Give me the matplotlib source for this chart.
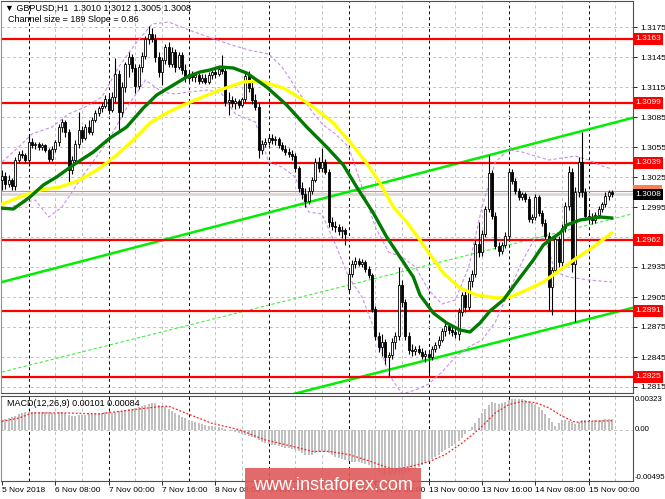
import numpy as np
import matplotlib.pyplot as plt
from matplotlib.patches import Rectangle

plt.rcParams['font.family'] = ['Liberation Sans', 'DejaVu Sans']

# GBPUSD H1 candles, 5 Nov 16:00 .. 15 Nov 07:00 (weekend skipped)
opens = [1.3022, 1.3026, 1.3018, 1.3022, 1.3016, 1.3042, 1.3048, 1.3047, 1.3042, 1.3060,
         1.3057, 1.3058, 1.3055, 1.3057, 1.3052, 1.3043, 1.3053, 1.3060, 1.3075, 1.3080,
         1.3070, 1.3032, 1.3042, 1.3058, 1.3072, 1.3064, 1.3075, 1.3070, 1.3082, 1.3089,
         1.3094, 1.3096, 1.3103, 1.3092, 1.3105, 1.3128, 1.3090, 1.3115, 1.3138, 1.3145,
         1.3134, 1.3116, 1.3135, 1.3146, 1.3163, 1.3168, 1.3163, 1.3145, 1.3130, 1.3142,
         1.3155, 1.3138, 1.3150, 1.3135, 1.3147, 1.3132, 1.3124, 1.3128, 1.3125, 1.3127,
         1.3121, 1.3124, 1.3120, 1.3127, 1.3130, 1.3128, 1.3133, 1.3131, 1.3100, 1.3102,
         1.3099, 1.3101, 1.3097, 1.3103, 1.3126, 1.3114, 1.3102, 1.3095, 1.3052, 1.3058,
         1.3060, 1.3064, 1.3062, 1.3063, 1.3057, 1.3053, 1.3050, 1.3048, 1.3046, 1.3034,
         1.3014, 1.3008, 1.3001, 1.3011, 1.3022, 1.3040, 1.3034, 1.3040, 1.3030, 1.2980,
         1.2976, 1.2975, 1.2971, 1.2972, 1.2913, 1.2928, 1.2938, 1.2941, 1.2938, 1.2940,
         1.2933, 1.2927, 1.2893, 1.2866, 1.2855, 1.2860, 1.2845, 1.2847, 1.2860, 1.2866,
         1.2917, 1.2900, 1.2866, 1.2852, 1.2851, 1.2853, 1.2850, 1.2846, 1.2848, 1.2845,
         1.2853, 1.2857, 1.2862, 1.2871, 1.2876, 1.2872, 1.2870, 1.2868, 1.2890, 1.2907,
         1.2895, 1.2921, 1.2928, 1.2958, 1.2950, 1.2968, 1.2993, 1.3029, 1.2986, 1.2956,
         1.2951, 1.2957, 1.2966, 1.3030, 1.3021, 1.3011, 1.3005, 1.3008, 1.3003, 1.2983,
         1.2985, 1.3005, 1.2989, 1.2979, 1.2966, 1.2915, 1.2932, 1.2963, 1.2940, 1.2974,
         1.2996, 1.3030, 1.2938, 1.3010, 1.3040, 1.3010, 1.2986, 1.2984, 1.2982, 1.2987,
         1.2993, 1.2998, 1.3006, 1.3010]
highs = [1.3032, 1.3030, 1.3027, 1.3024, 1.3045, 1.3051, 1.3052, 1.3049, 1.3067, 1.3064,
         1.3060, 1.3060, 1.3059, 1.3058, 1.3054, 1.3056, 1.3062, 1.3078, 1.3083, 1.3082,
         1.3073, 1.3046, 1.3062, 1.3090, 1.3076, 1.3078, 1.3082, 1.3085, 1.3092, 1.3096,
         1.3099, 1.3107, 1.3108, 1.3110, 1.3144, 1.3132, 1.3120, 1.3140, 1.3150, 1.3148,
         1.3138, 1.3138, 1.3150, 1.3166, 1.3176, 1.3174, 1.3168, 1.3150, 1.3145, 1.3158,
         1.3160, 1.3155, 1.3153, 1.3150, 1.3150, 1.3138, 1.3132, 1.3131, 1.3130, 1.3129,
         1.3128, 1.3128, 1.3130, 1.3132, 1.3134, 1.3136, 1.3147, 1.3136, 1.3110, 1.3106,
         1.3104, 1.3103, 1.3105, 1.3130, 1.3131, 1.3120, 1.3108, 1.3099, 1.3062, 1.3064,
         1.3067, 1.3068, 1.3066, 1.3065, 1.3060, 1.3057, 1.3054, 1.3052, 1.3049, 1.3036,
         1.3020, 1.3014, 1.3015, 1.3025, 1.3044, 1.3045, 1.3054, 1.3043, 1.3033, 1.2985,
         1.2981, 1.2978, 1.2976, 1.2974, 1.2932, 1.2942, 1.2945, 1.2944, 1.2943, 1.2942,
         1.2936, 1.2929, 1.2896, 1.2870, 1.2868, 1.2863, 1.2850, 1.2864, 1.2870, 1.2935,
         1.2922, 1.2903, 1.2870, 1.2858, 1.2856, 1.2857, 1.2854, 1.2852, 1.2852, 1.2856,
         1.2860, 1.2866, 1.2874, 1.2880, 1.2878, 1.2876, 1.2874, 1.2894, 1.2910, 1.2912,
         1.2925, 1.2932, 1.2962, 1.2980, 1.2972, 1.2996, 1.3047, 1.3032, 1.2990, 1.2960,
         1.2960, 1.2970, 1.3034, 1.3033, 1.3024, 1.3014, 1.3010, 1.3010, 1.3006, 1.2988,
         1.3008, 1.3007, 1.2992, 1.2983, 1.2970, 1.2935, 1.2968, 1.2966, 1.2978, 1.3000,
         1.3036, 1.3034, 1.3015, 1.3045, 1.3070, 1.3014, 1.2990, 1.2989, 1.2990, 1.2996,
         1.3000, 1.3010, 1.3012, 1.3012]
lows = [1.3012, 1.3013, 1.3015, 1.3012, 1.3012, 1.3040, 1.3044, 1.3039, 1.3036, 1.3054,
        1.3053, 1.3052, 1.3052, 1.3050, 1.3040, 1.3041, 1.3050, 1.3056, 1.3070, 1.3065,
        1.3019, 1.3028, 1.3040, 1.3054, 1.3060, 1.3062, 1.3068, 1.3067, 1.3080, 1.3086,
        1.3090, 1.3094, 1.3088, 1.3090, 1.3100, 1.3072, 1.3085, 1.3110, 1.3125, 1.3130,
        1.3109, 1.3113, 1.3130, 1.3143, 1.3158, 1.3160, 1.3140, 1.3125, 1.3117, 1.3138,
        1.3135, 1.3135, 1.3130, 1.3133, 1.3128, 1.3120, 1.3120, 1.3121, 1.3120, 1.3118,
        1.3119, 1.3118, 1.3118, 1.3123, 1.3124, 1.3126, 1.3128, 1.3096, 1.3087, 1.3095,
        1.3093, 1.3094, 1.3095, 1.3100, 1.3110, 1.3098, 1.3092, 1.3044, 1.3048, 1.3055,
        1.3057, 1.3058, 1.3057, 1.3054, 1.3051, 1.3047, 1.3045, 1.3042, 1.3030, 1.3010,
        1.3003, 1.2995, 1.2998, 1.3008, 1.3020, 1.3030, 1.3030, 1.3028, 1.2975, 1.2972,
        1.2970, 1.2967, 1.2964, 1.2957, 1.2910, 1.2925, 1.2934, 1.2936, 1.2935, 1.2930,
        1.2924, 1.2890, 1.2862, 1.2850, 1.2846, 1.2838, 1.2826, 1.2843, 1.2853, 1.2862,
        1.2895, 1.2862, 1.2848, 1.2846, 1.2847, 1.2848, 1.2843, 1.2840, 1.2829, 1.2842,
        1.2850, 1.2854, 1.2860, 1.2866, 1.2868, 1.2866, 1.2864, 1.2862, 1.2886, 1.2890,
        1.2892, 1.2915, 1.2925, 1.2945, 1.2946, 1.2965, 1.2990, 1.2983, 1.2953, 1.2946,
        1.2948, 1.2954, 1.2963, 1.3018, 1.3008, 1.3002, 1.3002, 1.3000, 1.2980, 1.2979,
        1.2982, 1.2986, 1.2976, 1.2963, 1.2892, 1.2887, 1.2928, 1.2935, 1.2936, 1.2970,
        1.2992, 1.2930, 1.2880, 1.3005, 1.3005, 1.2982, 1.2979, 1.2978, 1.2979, 1.2984,
        1.2990, 1.2995, 1.3002, 1.3005]
closes = [1.3026, 1.3018, 1.3022, 1.3016, 1.3042, 1.3048, 1.3047, 1.3042, 1.3060, 1.3057,
          1.3058, 1.3055, 1.3057, 1.3052, 1.3043, 1.3053, 1.3060, 1.3075, 1.3080, 1.3070,
          1.3032, 1.3042, 1.3058, 1.3072, 1.3064, 1.3075, 1.3070, 1.3082, 1.3089, 1.3094,
          1.3096, 1.3103, 1.3092, 1.3105, 1.3128, 1.3090, 1.3115, 1.3138, 1.3145, 1.3134,
          1.3116, 1.3135, 1.3146, 1.3163, 1.3168, 1.3163, 1.3145, 1.3130, 1.3142, 1.3155,
          1.3138, 1.3150, 1.3135, 1.3147, 1.3132, 1.3124, 1.3128, 1.3125, 1.3127, 1.3121,
          1.3124, 1.3120, 1.3127, 1.3130, 1.3128, 1.3133, 1.3131, 1.3100, 1.3102, 1.3099,
          1.3101, 1.3097, 1.3103, 1.3126, 1.3114, 1.3102, 1.3095, 1.3052, 1.3058, 1.3060,
          1.3064, 1.3062, 1.3063, 1.3057, 1.3053, 1.3050, 1.3048, 1.3046, 1.3034, 1.3014,
          1.3008, 1.3001, 1.3011, 1.3022, 1.3040, 1.3034, 1.3040, 1.3030, 1.2980, 1.2976,
          1.2975, 1.2971, 1.2972, 1.2968, 1.2928, 1.2938, 1.2941, 1.2938, 1.2940, 1.2933,
          1.2927, 1.2893, 1.2866, 1.2855, 1.2860, 1.2845, 1.2847, 1.2860, 1.2866, 1.2917,
          1.2900, 1.2866, 1.2852, 1.2851, 1.2853, 1.2850, 1.2846, 1.2848, 1.2845, 1.2853,
          1.2857, 1.2862, 1.2871, 1.2876, 1.2872, 1.2870, 1.2868, 1.2890, 1.2907, 1.2895,
          1.2921, 1.2928, 1.2958, 1.2950, 1.2968, 1.2993, 1.3029, 1.2986, 1.2956, 1.2951,
          1.2957, 1.2966, 1.3030, 1.3021, 1.3011, 1.3005, 1.3008, 1.3003, 1.2983, 1.2985,
          1.3005, 1.2989, 1.2979, 1.2966, 1.2915, 1.2932, 1.2963, 1.2940, 1.2974, 1.2996,
          1.3030, 1.2938, 1.3010, 1.3040, 1.3010, 1.2986, 1.2984, 1.2982, 1.2987, 1.2993,
          1.2998, 1.3006, 1.3010, 1.3008]

# moving averages read at sample bars
ma_green_x = [-0.6, 3.4, 8.4, 12.4, 16.4, 21.4, 27.4, 32.4, 37.4, 42.4, 46.4, 51.4, 55.4, 59.4,
              62.4, 65.4, 69.4, 73.4, 79.4, 85.4, 91.4, 97.4, 102.4, 106.4, 111.4, 115.4, 119.4,
              123.4, 125.4, 129.4, 133.4, 137.4, 140.4, 143.4, 146.4, 150.4, 154.4, 159.4, 162.4,
              164.4, 167.4, 169.4, 173.4, 179.4, 182.9]
ma_green = [1.2994, 1.2993, 1.3005, 1.3017, 1.3025, 1.3037, 1.3050, 1.3064, 1.3075, 1.3094,
            1.3107, 1.3117, 1.3125, 1.3130, 1.3132, 1.3135, 1.3134, 1.3129, 1.3115, 1.3097,
            1.3075, 1.3055, 1.3037, 1.3015, 1.2989, 1.2965, 1.2945, 1.2925, 1.2907, 1.2889,
            1.2879, 1.2872, 1.2870, 1.2879, 1.2891, 1.2902, 1.2920, 1.2942, 1.2957, 1.2962,
            1.2969, 1.2977, 1.2982, 1.2985, 1.2984]
ma_yellow_x = [-0.6, 5.4, 11.4, 17.4, 23.4, 29.4, 34.4, 39.4, 44.4, 49.4, 54.4, 59.4, 65.4, 72.4,
               77.4, 84.4, 89.4, 93.4, 99.4, 104.4, 109.4, 113.4, 117.4, 121.4, 125.4, 127.4,
               132.4, 137.4, 142.4, 148.4, 152.4, 157.4, 162.4, 167.4, 172.4, 177.4, 182.9]
ma_yellow = [1.2997, 1.3005, 1.3012, 1.3015, 1.3022, 1.3034, 1.3047, 1.3062, 1.3079, 1.3089,
             1.3097, 1.3104, 1.3112, 1.3120, 1.3121, 1.3114, 1.3104, 1.3095, 1.3079, 1.3060,
             1.3039, 1.3019, 1.2995, 1.2980, 1.2962, 1.2952, 1.2929, 1.2914, 1.2907, 1.2904,
             1.2905, 1.2912, 1.2920, 1.2932, 1.2944, 1.2955, 1.2969]

# bands (violet dashed)
band_up_x = [0, 5, 9, 15, 20, 25, 30, 35, 40, 45, 50, 56, 62, 68, 74, 80, 84, 88, 92, 96, 100,
             104, 108, 112, 116, 120, 124, 128, 132, 136, 140, 144, 148, 152, 156, 160, 164,
             168, 172, 176, 180, 183]
band_up = [1.3040, 1.3055, 1.3068, 1.3075, 1.3088, 1.3095, 1.3105, 1.3135, 1.3158, 1.3178,
           1.3180, 1.3172, 1.3165, 1.3158, 1.3152, 1.3148, 1.3135, 1.3115, 1.3095, 1.3078,
           1.3068, 1.3055, 1.3015, 1.2975, 1.2950, 1.2945, 1.2935, 1.2912, 1.2898, 1.2902,
           1.2935, 1.2995, 1.3040, 1.3052, 1.3050, 1.3046, 1.3042, 1.3044, 1.3046, 1.3042,
           1.3036, 1.3033]
band_lo_x = [0, 5, 10, 14, 18, 24, 32, 37, 43, 48, 52, 56, 62, 66, 70, 76, 80, 84, 88, 92, 96,
             100, 104, 108, 112, 116, 120, 124, 128, 132, 136, 140, 144, 148, 152, 156, 160,
             163, 166, 170, 176, 183]
band_lo = [1.2992, 1.2998, 1.3002, 1.2985, 1.2995, 1.3025, 1.3062, 1.3092, 1.3122, 1.3110,
           1.3108, 1.3110, 1.3112, 1.3108, 1.3088, 1.3080, 1.3040, 1.3035, 1.3025, 1.2990,
           1.2988, 1.2958, 1.2925, 1.2905, 1.2870, 1.2828, 1.2808, 1.2812, 1.2818, 1.2830,
           1.2845, 1.2855, 1.2862, 1.2880, 1.2910, 1.2940, 1.2965, 1.2963, 1.2930, 1.2925,
           1.2922, 1.2920]

# equidistant channel
channel_x = [0, 189]
channel_up = [1.2920, 1.3084]
channel_mid = [1.2830, 1.2988]
channel_lo = [1.2734, 1.2894]

levels = [1.3163, 1.3099, 1.3039, 1.2962, 1.2891, 1.2825]
price_ticks = [1.3175, 1.3145, 1.3115, 1.3085, 1.3055, 1.3025, 1.2995, 1.2935,
               1.2905, 1.2875, 1.2845, 1.2815]
grid_prices = [1.3175, 1.3145, 1.3115, 1.3085, 1.3055, 1.3025, 1.2995, 1.2965, 1.2935,
               1.2905, 1.2875, 1.2845, 1.2815]

# MACD main (x1e-5), one per bar
macd_main = [90, 100, 110, 120, 135, 145, 155, 165, 170, 172,
             172, 170, 170, 168, 165, 160, 160, 165, 170, 160,
             140, 135, 135, 138, 140, 142, 145, 150, 155, 158,
             160, 165, 165, 160, 170, 175, 175, 185, 195, 200,
             205, 215, 225, 235, 250, 258, 255, 240, 230, 215,
             195, 175, 160, 140, 125, 110, 95, 80, 70, 60,
             50, 42, 35, 30, 25, 20, 15, 10, 0, -10,
             -25, -37, -45, -55, -60, -70, -80, -100, -120, -130,
             -135, -145, -150, -160, -165, -175, -180, -185, -195, -210,
             -225, -240, -245, -240, -225, -215, -210, -215, -230, -245,
             -260, -270, -280, -290, -300, -310, -310, -315, -320, -330,
             -345, -370, -390, -410, -425, -435, -440, -440, -435, -425,
             -420, -415, -405, -390, -375, -360, -340, -320, -300, -280,
             -260, -240, -220, -200, -180, -160, -135, -110, -80, -45,
             -15, 20, 60, 110, 160, 200, 240, 270, 260, 250,
             260, 270, 285, 290, 295, 295, 290, 285, 275, 260,
             240, 215, 185, 150, 110, 70, 35, 60, 90, 95,
             85, 70, 55, 70, 95, 90, 80, 85, 90, 92,
             95, 98, 100, 101]
signal_x = [0, 5, 9, 19, 29, 39, 47, 50, 55, 63, 71, 79, 87, 93, 98, 104, 110, 116, 118, 122,
            128, 133, 138, 143, 148, 152, 156, 160, 164, 168, 172, 176, 183]
signal = [80, 110, 160, 160, 150, 190, 220, 225, 160, 60, 0, -100, -160, -210, -210, -240,
          -300, -370, -380, -360, -310, -240, -130, 0, 160, 240, 270, 260, 210, 130, 70, 80, 84]

date_pos = [0, 16, 32, 48, 64, 80, 96, 112, 128, 144, 160, 176]
date_labels = ['5 Nov 2018', '6 Nov 08:00', '7 Nov 00:00', '7 Nov 16:00', '8 Nov 08:00',
               '9 Nov 00:00', '9 Nov 16:00', '12 Nov 08:00', '13 Nov 00:00', '13 Nov 16:00',
               '14 Nov 08:00', '15 Nov 00:00']
day_starts = [8, 32, 56, 80, 104, 128, 152, 176]

W, H = 665, 499
fig = plt.figure(figsize=(W / 100, H / 100), dpi=100)
ax = fig.add_axes([1 / W, 1 - 393 / H, 632 / W, 392 / H])
axm = fig.add_axes([1 / W, 1 - 481 / H, 632 / W, 85 / H])

o = np.array(opens); h = np.array(highs); l = np.array(lows); c = np.array(closes)
x = np.arange(len(c))

# grid
for a in (ax, axm):
    for g in range(8, 190, 8):
        if g in day_starts:
            a.axvline(g, color='black', lw=0.7, ls=(0, (3, 3)), zorder=0)
        else:
            a.axvline(g, color='#c0c0c0', lw=0.7, ls=(0, (3, 3)), zorder=0)
for gp in grid_prices:
    ax.axhline(gp, color='#c0c0c0', lw=0.7, ls=(0, (3, 3)), zorder=0)

# channel, levels, bands
ax.plot(channel_x, channel_up, color='#00ee00', lw=1.8, zorder=2)
ax.plot(channel_x, channel_lo, color='#00ee00', lw=1.8, zorder=2)
ax.plot(channel_x, channel_mid, color='#44ee44', lw=0.8, ls=(0, (3, 2)), zorder=2)
for lv in levels:
    ax.axhline(lv, color='#ff0000', lw=1.6, zorder=2)
ax.axhline(1.3008, color='#d8d8d8', lw=2.0, zorder=1)
ax.axhline(1.3011, color='#ff7f50', lw=0.8, zorder=1)
ax.plot(band_up_x, band_up, color='#c890e8', lw=0.8, ls=(0, (3, 2)), zorder=2)
ax.plot(band_lo_x, band_lo, color='#c890e8', lw=0.8, ls=(0, (3, 2)), zorder=2)

# candles
up = c >= o
body = np.maximum(np.abs(c - o), 0.00008)
ax.vlines(x, l, h, color='black', lw=0.8, zorder=3)
ax.bar(x[up], body[up], bottom=o[up], width=0.62, color='white', edgecolor='black', lw=0.6, zorder=4)
ax.bar(x[~up], body[~up], bottom=c[~up], width=0.62, color='black', edgecolor='black', lw=0.6, zorder=4)

# moving averages
ax.plot(ma_yellow_x, ma_yellow, color='#ffff00', lw=2.4, zorder=5)
ax.plot(ma_green_x, ma_green, color='#007a00', lw=2.4, zorder=5)

ax.set_xlim(-0.3, 189.3)
ax.set_ylim(1.2809, 1.3201)
ax.set_xticks([])
ax.yaxis.tick_right()
ax.set_yticks(price_ticks)
ax.set_yticklabels([f'{p:.4f}' for p in price_ticks])
ax.tick_params(axis='y', labelsize=6, length=3, pad=2, width=0.6)

for lv in levels:
    ax.text(1.003, lv, f'{lv:.4f}', transform=ax.get_yaxis_transform(), ha='left', va='center',
            fontsize=6, color='white', clip_on=False, zorder=10,
            bbox=dict(boxstyle='square,pad=0.25', fc='#ff0000', ec='none'))
ax.text(1.003, 1.3011, '1.3011', transform=ax.get_yaxis_transform(), ha='left', va='center',
        fontsize=6, color='#ff7f50', clip_on=False, zorder=10,
        bbox=dict(boxstyle='square,pad=0.25', fc='#ff7f50', ec='none'))
ax.text(1.003, 1.30075, '1.3008', transform=ax.get_yaxis_transform(), ha='left', va='center',
        fontsize=6, color='white', clip_on=False, zorder=11,
        bbox=dict(boxstyle='square,pad=0.25', fc='black', ec='none'))

# MACD
axm.bar(x, np.array(macd_main) * 1e-5, width=0.55, color='#c0c0c0', zorder=2)
axm.plot(signal_x, np.array(signal) * 1e-5, color='#ff2020', lw=0.9, ls=(0, (1.5, 1.5)), zorder=3)
axm.axhline(0, color='#c0c0c0', lw=0.7, ls=(0, (3, 3)), zorder=1)
axm.set_xlim(-0.3, 189.3)
axm.set_ylim(-0.00495, 0.00323)
axm.set_yticks([])
axm.set_xticks(date_pos)
axm.set_xticklabels(date_labels)
axm.tick_params(axis='x', labelsize=6, length=3, pad=1.5, width=0.6)
for t in axm.get_xticklabels():
    t.set_ha('left')
for val, txt, va in [(0.00323, '0.00323', 'top'), (0.0, '0.00', 'center'), (-0.00495, '-0.00495', 'bottom')]:
    axm.text(1.002, val, txt, transform=axm.get_yaxis_transform(), ha='left', va=va,
             fontsize=5.6, clip_on=False)

for a in (ax, axm):
    for s in a.spines.values():
        s.set_color('#505050')
        s.set_linewidth(0.8)
    a.spines['left'].set_color('#909090')

fig.text(5 / W, 1 - 8 / H, '\u25bc GBPUSD,H1  1.3010 1.3012 1.3005 1.3008', fontsize=6.5, va='center')
fig.text(8 / W, 1 - 20 / H, 'Channel size = 189 Slope = 0.86', fontsize=6.5, va='center')
fig.text(7 / W, 1 - 403 / H, 'MACD(12,26,9) 0.00101 0.00084', fontsize=6.5, va='center')

# watermark
fig.patches.append(Rectangle((245 / W, 0), 176 / W, 31 / H, transform=fig.transFigure,
                             fc='#e05a5a', ec='none', alpha=0.9, zorder=20))
fig.text(333 / W, 14 / H, 'www.instaforex.com', fontsize=13, color='white',
         ha='center', va='center', zorder=21)

fig.savefig('out.png', dpi=100)
